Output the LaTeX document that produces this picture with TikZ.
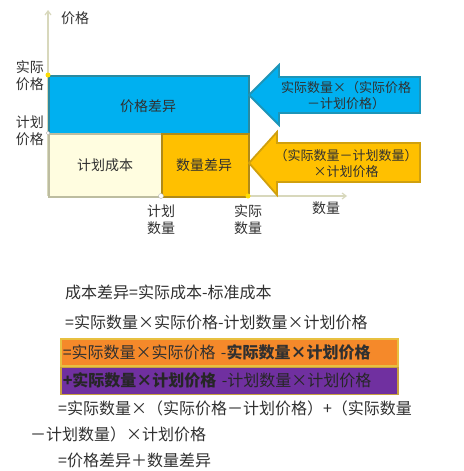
\documentclass[tikz,border=0pt]{standalone}
\usepackage{fontspec}
\setmainfont{Noto Sans CJK SC}
\usetikzlibrary{arrows.meta}
\definecolor{skyb}{HTML}{00B0F0}
\definecolor{skybd}{HTML}{2A8AA0}
\definecolor{gold}{HTML}{FFC000}
\definecolor{goldd}{HTML}{B08A18}
\definecolor{cream}{HTML}{FFFDE0}
\definecolor{creamd}{HTML}{BDBDA0}
\definecolor{axisc}{HTML}{D8D8BC}
\definecolor{orng}{HTML}{F5892A}
\definecolor{orngd}{HTML}{E8C040}
\definecolor{purp}{HTML}{7030A0}
\definecolor{purpd}{HTML}{C8A040}
\definecolor{txt}{HTML}{303030}
\newcommand{\X}{\makebox[1em]{×}}
\begin{document}
\begin{tikzpicture}[x=1pt,y=-1pt,
  lbl/.style={text=txt, inner sep=0pt, font=\fontsize{14}{17}\selectfont, align=center},
  albl/.style={text=txt, inner sep=0pt, font=\fontsize{13}{16}\selectfont, align=center},
  eq/.style={text=txt, inner sep=0pt, anchor=west, font=\fontsize{16}{19}\selectfont},
  axisline/.style={draw=axisc, line width=1.2pt},
  boxb/.style={draw=skybd, fill=skyb, line width=1.5pt},
  boxc/.style={draw=creamd, fill=cream, line width=1.5pt},
  boxg/.style={draw=goldd, fill=gold, line width=1.5pt},
  arrb/.style={draw=skybd!70!skyb, fill=skyb, line width=1.8pt, line join=miter},
  arrg/.style={draw=goldd!60!gold, fill=gold, line width=1.8pt, line join=miter},
  bandbox/.style={inner xsep=2pt, inner ysep=0pt, minimum height=27pt, anchor=north west, text width=333pt, align=left, line width=1.5pt, font=\fontsize{16}{19}\selectfont},
]
\useasboundingbox (0,0) rectangle (463,471);

% axes
\coordinate (O) at (48,196);
\coordinate (Ytop) at (48,10);
\coordinate (Xend) at (347,196);
\draw[axisline, -{Straight Barb[length=4pt,width=6pt]}] (O) -- (Ytop);
\draw[axisline, -{Straight Barb[length=4pt,width=6pt]}] (O) -- (Xend);

% rectangles
\node[boxb, minimum width=200pt, minimum height=58pt, anchor=north west, inner sep=0pt] (pv) at (48,75) {};
\node[lbl] (pvt) at (148,106) {价格差异};
\node[boxc, minimum width=113pt, minimum height=63pt, anchor=north west, inner sep=0pt] (pc) at (48,133) {};
\node[lbl] (pct) at (105,165) {计划成本};
\node[boxg, minimum width=87pt, minimum height=63pt, anchor=north west, inner sep=0pt] (qv) at (161,133) {};
\node[lbl] (qvt) at (204,165) {数量差异};

% dots
\fill[yellow!80!orange] (48,75) circle (2.5pt);
\draw[gray!60, fill=white] (48,133) circle (1.8pt);
\draw[gray!60, fill=white] (161,196) circle (2.5pt);
\fill[yellow!80!orange] (248,196) circle (2.5pt);

% axis labels
\node[lbl] (yl) at (75,18) {价格};
\node[lbl] (ap) at (30,76) {实际\\价格};
\node[lbl] (pp) at (30,131) {计划\\价格};
\node[lbl] (pq) at (161,220) {计划\\数量};
\node[lbl] (aq) at (248,220) {实际\\数量};
\node[lbl] (xl) at (326,208) {数量};

% arrows
\draw[arrb] (420,77) -- (279,77) -- (279,65) -- (249,95) -- (279,125) -- (279,113) -- (420,113) -- cycle;
\node[albl] (bt) at (346,96) {实际数量×（实际价格\\－计划价格）};
\draw[arrg] (420,143) -- (277,143) -- (277,132) -- (249,163) -- (277,195) -- (277,182) -- (420,182) -- cycle;
\node[albl] (gt) at (346,164) {（实际数量－计划数量）\\×计划价格};

% equations
\node[eq] (e1) at (65,292) {成本差异=实际成本-标准成本};
\node[eq] (e2) at (65,322) {=实际数量\X 实际价格-计划数量\X 计划价格};
\node[bandbox, draw=orngd, fill=orng, text=txt] (ob) at (60,338) {=实际数量\X 实际价格 -\textbf{实际数量\X 计划价格}};
\node[bandbox, draw=purpd, fill=purp, text=black!85] (pb) at (60,366.5) {\textbf{+实际数量\X 计划价格} -计划数量\X 计划价格};
\node[eq] (e3) at (58,408) {=实际数量\X（实际价格－计划价格）+（实际数量};
\node[eq] (e4) at (30,434) {－计划数量）\X 计划价格};
\node[eq] (e5) at (58,460) {=价格差异＋数量差异};
\end{tikzpicture}
\end{document}
